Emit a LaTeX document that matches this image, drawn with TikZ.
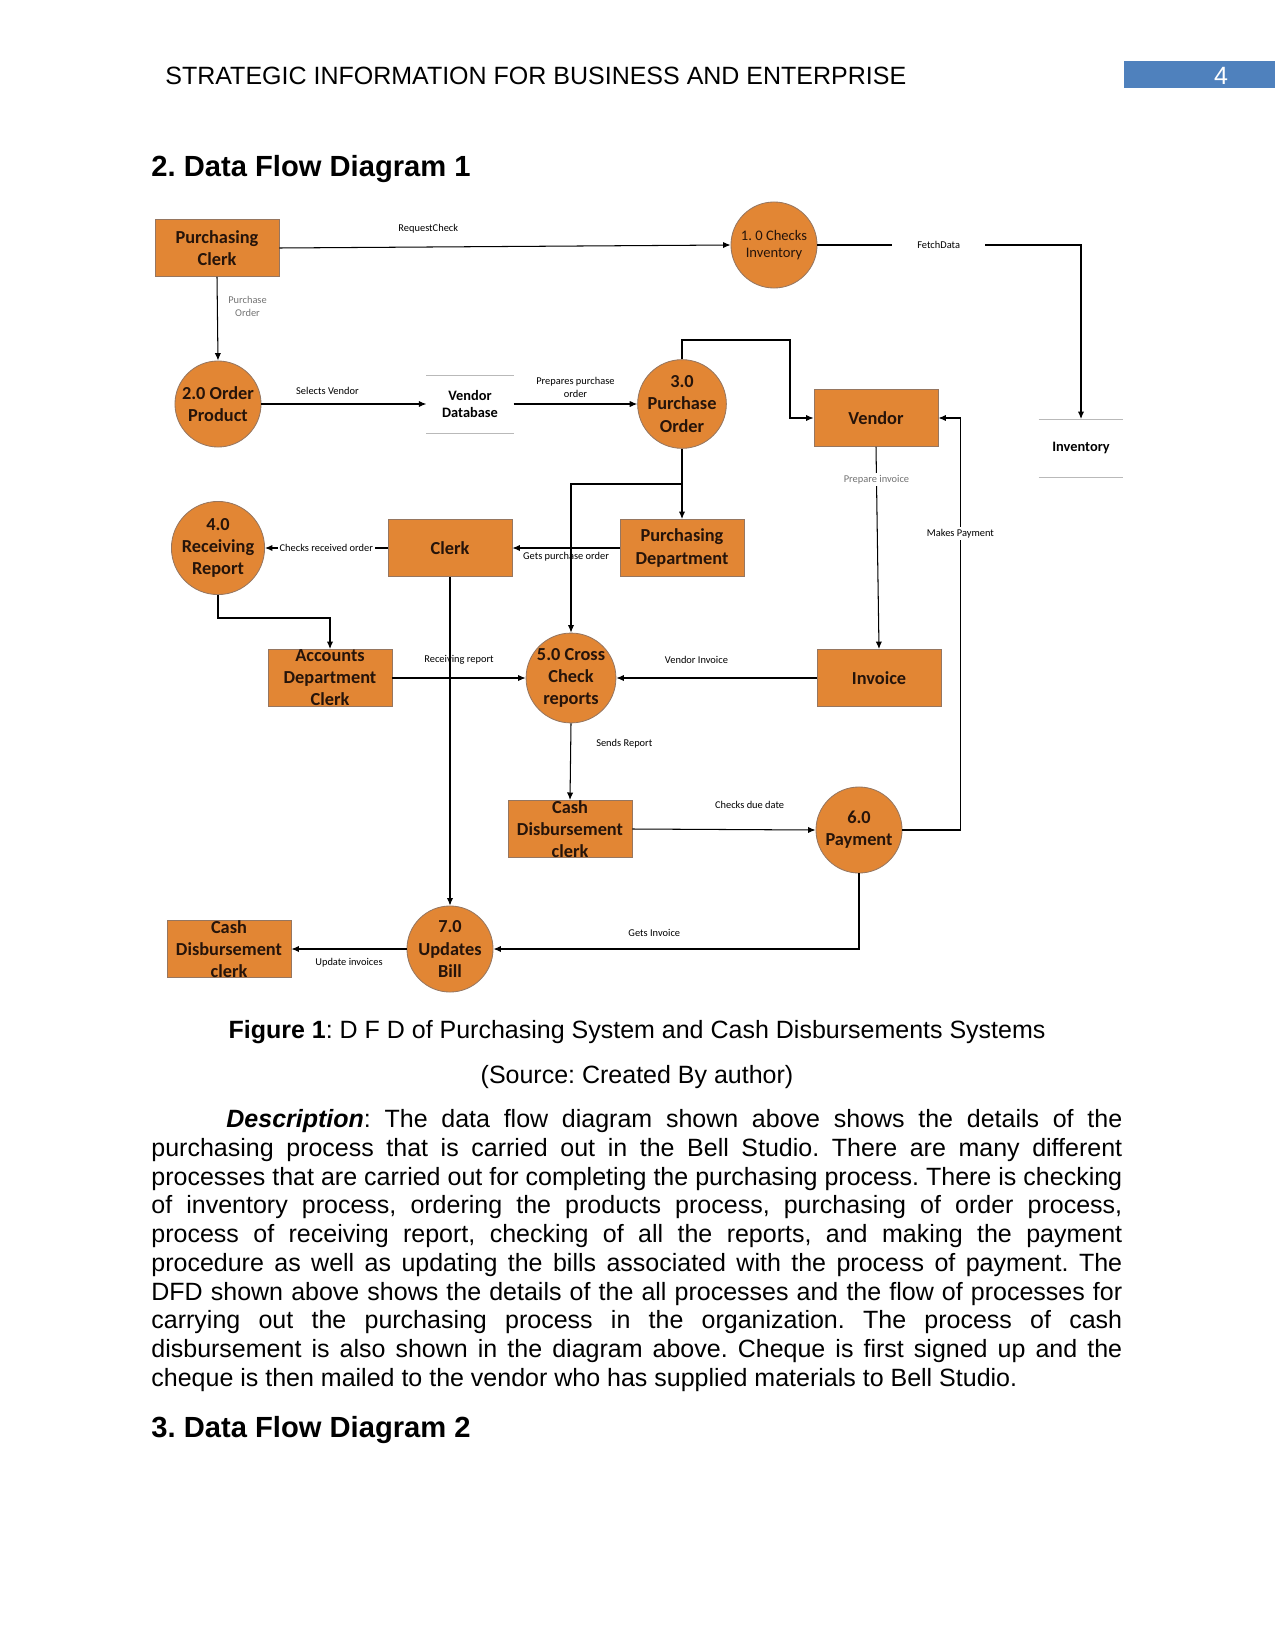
\documentclass[tikz,border=0pt]{standalone}
\usepackage{fontspec}
\setmainfont{Liberation Sans}
\newfontfamily\carlito{Carlito}
\usetikzlibrary{arrows.meta, positioning, calc}
\tikzstyle{arrow} = [->, >={Latex[length=3.6pt,width=3pt]}, line width=0.5pt]
\definecolor{dfdorange}{RGB}{226,134,52}
\definecolor{dfdedge}{RGB}{150,118,96}
\definecolor{dfdtext}{RGB}{38,20,10}
\definecolor{hdrblue}{RGB}{79,129,189}

\begin{document}
\frenchspacing
\begin{tikzpicture}[
  x=0.48pt, y=-0.48pt,
  box/.style={draw=dfdedge, fill=dfdorange, minimum width=59.5pt, minimum height=27.4pt, inner sep=0pt, align=center, text=dfdtext, font=\carlito\bfseries\fontsize{8.8}{10.6}\selectfont},
  proc/.style={draw=dfdedge, fill=dfdorange, circle, minimum size=41.3pt, inner sep=0pt, align=center, text=dfdtext, font=\carlito\bfseries\fontsize{8.8}{10.6}\selectfont},
  store/.style={minimum width=41.5pt, minimum height=27.4pt, inner sep=0pt, align=center, font=\carlito\bfseries\fontsize{6.9}{8.3}\selectfont},
  lbl/.style={font=\carlito\fontsize{5}{6}\selectfont, inner sep=1pt, align=center},
  page/.style={inner sep=0pt, font=\fontsize{12}{14}\selectfont},
  heading/.style={inner sep=0pt, font=\bfseries\fontsize{14}{16}\selectfont},
]
\useasboundingbox (0,0) rectangle (1275,1651);

% Page header
\node[page, anchor=base west] (header) at (165,85) {STRATEGIC INFORMATION FOR BUSINESS AND ENTERPRISE};
\fill[hdrblue] (1124,61) rectangle (1275,88);
\node[page, anchor=base, text=white] (pageno) at (1221,85) {4};
\node[heading, anchor=base west] (head1) at (151,177) {2. Data Flow Diagram 1};

% Entities and processes
\node[box] (pclerk) at (217,248) {Purchasing\\Clerk};
\node[proc, font=\carlito\fontsize{7}{8.5}\selectfont] (checkinv) at (774,245) {1. 0 Checks\\Inventory};
\node[proc] (order) at (218,404) {2.0 Order\\Product};
\node[store] (vdb) at (470,404) {Vendor\\Database};
\node[proc] (purch) at (682,404) {3.0\\Purchase\\Order};
\node[box] (vendor) at (876,418) {Vendor};
\node[store, minimum width=40.3pt] (inventory) at (1081,448) {Inventory};
\node[proc] (recv) at (218,548) {4.0\\Receiving\\Report};
\node[box] (clerk) at (450,548) {Clerk};
\node[box] (pdept) at (682,548) {Purchasing\\Department};
\node[box] (acclerk) at (330,678) {Accounts\\Department\\Clerk};
\node[proc] (cross) at (571,678) {5.0 Cross\\Check\\reports};
\node[box] (invoice) at (879,678) {Invoice};
\node[box] (cashclerk) at (570,829) {Cash\\Disbursement\\clerk};
\node[proc] (pay) at (859,830) {6.0\\Payment};
\node[box] (cashclerkb) at (229,949) {Cash\\Disbursement\\clerk};
\node[proc] (bill) at (450,949) {7.0\\Updates\\Bill};

% Data stores (open rectangles)
\draw[gray!55] (vdb.north west) -- (vdb.north east) (vdb.south west) -- (vdb.south east);
\draw[gray!55] (inventory.north west) -- (inventory.north east) (inventory.south west) -- (inventory.south east);

% Data flows
\draw[arrow] (pclerk.east) -- node[lbl, above=5.5pt, pos=0.33] {RequestCheck} (checkinv.west);
\draw[arrow] (checkinv.east) -| node[lbl, fill=white, inner xsep=12pt, pos=0.23] {FetchData} (inventory.north);
\draw[arrow] (pclerk.south) -- node[lbl, right=4pt, pos=0.35, text=gray!90!black] {Purchase\\Order} (order.north);
\draw[arrow] (order.east) -- node[lbl, above=3.5pt, pos=0.4] {Selects Vendor} (vdb.west);
\draw[arrow] (vdb.east) -- node[lbl, above=2pt] {Prepares purchase\\order} (purch.west);
\draw[arrow] (purch.north) |- (790,340) |- (vendor.west);
\draw[arrow] (purch.south) -- (pdept.north);
\coordinate (split) at (682,484);
\draw[arrow] (split) -| (cross.north);
\draw[arrow] (pdept.west) -- node[lbl, below=1pt] {Gets purchase order} (clerk.east);
\draw[arrow] (clerk.west) -- node[lbl, fill=white] {Checks received order} (recv.east);
\draw[arrow] (recv.south) -- ++(0,23) -| (acclerk.north);
\draw[arrow] (acclerk.east) -- node[lbl, above=5.5pt] {Receiving report} (cross.west);
\draw[arrow] (clerk.south) -- (bill.north);
\draw[arrow] (invoice.west) -- node[lbl, above=5.5pt, pos=0.6] {Vendor Invoice} (cross.east);
\draw[arrow] (vendor.south) -- node[lbl, fill=white, pos=0.16, text=gray!90!black] {Prepare invoice} (invoice.north);
\draw[arrow] (pay.east) -- ++(58,0) |- node[lbl, fill=white, pos=0.36] {Makes Payment} (vendor.east);
\draw[arrow] (cross.south) -- node[lbl, right=11pt, pos=0.26] {Sends Report} (cashclerk.north);
\draw[arrow] (cashclerk.east) -- node[lbl, above=9pt, pos=0.64] {Checks due date} (pay.west);
\draw[arrow] (pay.south) |- node[lbl, above=4.5pt, pos=0.78] {Gets Invoice} (bill.east);
\draw[arrow] (bill.west) -- node[lbl, below=3pt] {Update invoices} (cashclerkb.east);

% Caption and text
\node[page, anchor=base] (caption) at (637,1038) {\textbf{Figure 1}: D F D of Purchasing System and Cash Disbursements Systems};
\node[page, anchor=base] (source) at (637,1083) {(Source: Created By author)};
\node[page, anchor=north west, text width=466pt, align=justify, font=\fontsize{12}{13.8}\selectfont] (desc) at (151,1109) {\tolerance=10000\hyphenpenalty=10000%
\hspace*{36pt}\textbf{\textit{Description}}: The data flow diagram shown above shows the details of the\linebreak
purchasing process that is carried out in the Bell Studio. There are many different\linebreak
processes that are carried out for completing the purchasing process. There is checking\linebreak
of inventory process, ordering the products process, purchasing of order process,\linebreak
process of receiving report, checking of all the reports, and making the payment\linebreak
procedure as well as updating the bills associated with the process of payment. The\linebreak
DFD shown above shows the details of the all processes and the flow of processes for\linebreak
carrying out the purchasing process in the organization. The process of cash\linebreak
disbursement is also shown in the diagram above. Cheque is first signed up and the\linebreak
cheque is then mailed to the vendor who has supplied materials to Bell Studio.};
\node[heading, anchor=base west] (head2) at (151,1437) {3. Data Flow Diagram 2};
\end{tikzpicture}
\end{document}
